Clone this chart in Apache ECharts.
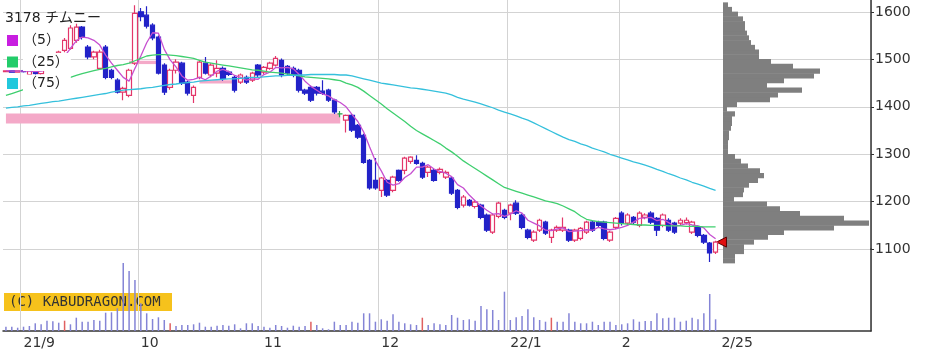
<!DOCTYPE html>
<html><head><meta charset="utf-8">
<script src="https://cdn.jsdelivr.net/npm/echarts@6/dist/echarts.min.js"></script>
<style>html,body{margin:0;padding:0;background:#fff}#c{width:930px;height:352px}</style>
</head><body><div id="c"></div>
<script>
const dates = [
'21/08/27','21/08/30','21/08/31',
'21/09/01','21/09/02','21/09/03','21/09/06','21/09/07','21/09/08','21/09/09','21/09/10','21/09/13','21/09/14','21/09/15','21/09/16','21/09/17','21/09/21','21/09/22','21/09/24','21/09/27','21/09/28','21/09/29','21/09/30',
'21/10/01','21/10/04','21/10/05','21/10/06','21/10/07','21/10/08','21/10/11','21/10/12','21/10/13','21/10/14','21/10/15','21/10/18','21/10/19','21/10/20','21/10/21','21/10/22','21/10/25','21/10/26','21/10/27','21/10/28','21/10/29',
'21/11/01','21/11/02','21/11/04','21/11/05','21/11/08','21/11/09','21/11/10','21/11/11','21/11/12','21/11/15','21/11/16','21/11/17','21/11/18','21/11/19','21/11/22','21/11/24','21/11/25','21/11/26','21/11/29','21/11/30',
'21/12/01','21/12/02','21/12/03','21/12/06','21/12/07','21/12/08','21/12/09','21/12/10','21/12/13','21/12/14','21/12/15','21/12/16','21/12/17','21/12/20','21/12/21','21/12/22','21/12/23','21/12/24','21/12/27','21/12/28','21/12/29','21/12/30',
'22/01/04','22/01/05','22/01/06','22/01/07','22/01/11','22/01/12','22/01/13','22/01/14','22/01/17','22/01/18','22/01/19','22/01/20','22/01/21','22/01/24','22/01/25','22/01/26','22/01/27','22/01/28','22/01/31',
'22/02/01','22/02/02','22/02/03','22/02/04','22/02/07','22/02/08','22/02/09','22/02/10','22/02/14','22/02/15','22/02/16','22/02/17','22/02/18','22/02/21','22/02/22','22/02/24','22/02/25'
];
const open = [
1474,1476,1473,1476,1468,1476,1470,1480,1492,1508,
1519,1523,1540,1568,1526,1505,1481,1526,1477,1456,
1431,1424,1492,1600,1593,1572,1547,1488,1441,1477,
1492,1452,1424,1462,1492,1467,1471,1481,1473,1462,
1452,1462,1456,1488,1473,1481,1488,1498,1485,1481,
1477,1435,1441,1441,1433,1435,1414,1385,1372,1382,
1361,1340,1287,1245,1224,1245,1224,1266,1266,1285,
1287,1281,1262,1266,1262,1252,1250,1224,1193,1203,
1190,1193,1172,1136,1169,1182,1176,1197,1172,1140,
1119,1140,1157,1125,1140,1140,1140,1119,1123,1136,
1157,1157,1157,1119,1146,1176,1155,1167,1150,1167,
1176,1165,1150,1161,1155,1155,1156,1136,1146,1129,
1113,1094];
const close = [
1476,1473,1476,1474,1476,1470,1480,1490,1505,1515,
1540,1566,1568,1547,1505,1515,1515,1462,1462,1431,
1439,1477,1597,1590,1570,1545,1471,1431,1477,1494,
1450,1429,1441,1494,1471,1488,1481,1460,1468,1435,
1467,1452,1471,1467,1483,1492,1502,1467,1471,1467,
1435,1429,1414,1429,1428,1414,1389,1385,1382,1351,
1336,1283,1229,1229,1250,1214,1252,1245,1292,1294,
1281,1252,1273,1245,1268,1262,1218,1188,1210,1193,
1199,1167,1140,1172,1197,1167,1193,1176,1146,1125,
1136,1161,1134,1140,1146,1146,1119,1140,1144,1157,
1140,1150,1123,1136,1165,1155,1172,1157,1176,1172,
1157,1140,1172,1140,1136,1161,1161,1157,1129,1115,
1092,1115];
const low = [
1473,1472,1472,1472,1465,1466,1467,1477,1488,1505,
1515,1520,1535,1542,1500,1500,1478,1458,1458,1428,
1414,1420,1488,1580,1565,1540,1468,1425,1436,1470,
1446,1424,1408,1458,1468,1462,1462,1455,1465,1430,
1448,1448,1452,1462,1468,1478,1485,1462,1466,1462,
1430,1425,1410,1424,1425,1410,1385,1378,1346,1347,
1332,1280,1225,1225,1210,1210,1220,1242,1258,1280,
1278,1248,1252,1242,1258,1248,1214,1184,1188,1190,
1186,1163,1136,1132,1165,1163,1161,1172,1142,1121,
1115,1136,1130,1113,1136,1136,1115,1115,1119,1132,
1136,1146,1119,1115,1142,1150,1150,1153,1146,1163,
1153,1128,1146,1136,1132,1150,1152,1132,1125,1111,
1073,1090];
const high = [
1477,1477,1477,1478,1479,1480,1483,1494,1508,1518,
1545,1572,1575,1570,1530,1518,1520,1530,1480,1460,
1442,1480,1614,1608,1612,1576,1550,1492,1480,1500,
1495,1455,1445,1497,1505,1492,1498,1485,1476,1465,
1470,1466,1474,1490,1486,1495,1507,1502,1488,1485,
1480,1438,1445,1444,1456,1438,1417,1391,1384,1385,
1364,1343,1290,1292,1252,1248,1255,1268,1295,1296,
1298,1284,1276,1270,1272,1266,1253,1227,1214,1206,
1203,1196,1175,1175,1200,1185,1196,1203,1175,1143,
1140,1164,1160,1143,1150,1167,1143,1143,1147,1160,
1160,1160,1160,1139,1168,1180,1176,1170,1180,1176,
1180,1168,1175,1165,1158,1165,1167,1160,1150,1132,
1115,1118];
const ma5 = [
1476,1475,1475,1475,1475,1474,1475,1478,1484,1492,
1506,1523,1539,1547,1545,1540,1530,1509,1492,1477,
1462,1454,1481,1507,1535,1556,1555,1521,1499,1484,
1465,1456,1458,1462,1457,1465,1475,1479,1474,1466,
1462,1456,1459,1458,1468,1473,1483,1482,1483,1480,
1468,1454,1443,1435,1427,1423,1415,1409,1400,1384,
1369,1347,1316,1286,1265,1241,1235,1238,1251,1259,
1273,1273,1278,1269,1264,1260,1253,1236,1229,1214,
1202,1191,1182,1174,1175,1169,1174,1181,1176,1161,
1155,1149,1140,1139,1143,1145,1137,1138,1139,1141,
1140,1146,1143,1141,1143,1146,1150,1157,1165,1166,
1167,1160,1163,1156,1149,1150,1154,1151,1149,1145,
1131,1122];
const ma25 = [
1424,1428,1432,1436,1440,1443,1447,1450,1453,1456,
1459,1462,1466,1470,1473,1476,1479,1481,1484,1487,
1489,1492,1497,1502,1507,1509,1510,1510,1509,1508,
1506,1504,1502,1498,1494,1492,1490,1488,1486,1484,
1482,1480,1478,1477,1475,1473,1472,1471,1469,1467,
1465,1463,1462,1461,1460,1459,1457,1455,1450,1446,
1441,1433,1424,1415,1406,1396,1387,1378,1369,1359,
1350,1343,1336,1329,1322,1313,1305,1296,1286,1278,
1270,1262,1254,1246,1238,1230,1226,1222,1218,1214,
1210,1206,1202,1199,1196,1191,1185,1179,1170,1163,
1160,1158,1157,1156,1155,1154,1153,1152,1151,1151,
1150,1150,1150,1149,1149,1149,1148,1148,1148,1147,
1147,1147];
const ma75 = [
1397,1399,1400,1402,1403,1405,1407,1409,1411,1412,
1414,1416,1418,1420,1422,1424,1426,1428,1431,1433,
1435,1436,1437,1438,1440,1441,1443,1445,1447,1448,
1450,1451,1452,1454,1455,1456,1457,1458,1459,1459,
1460,1461,1462,1462,1463,1464,1465,1465,1466,1466,
1467,1467,1468,1468,1468,1468,1468,1467,1467,1465,
1462,1459,1456,1453,1450,1448,1446,1444,1442,1440,
1439,1437,1435,1433,1431,1429,1425,1420,1416,1413,
1410,1406,1402,1398,1393,1389,1385,1381,1376,1372,
1366,1360,1354,1348,1342,1336,1331,1327,1322,1318,
1313,1309,1305,1300,1296,1292,1288,1284,1281,1277,
1273,1268,1264,1259,1255,1250,1246,1241,1237,1233,
1228,1224];
const volume = [
4300,4300,3300,4300,5000,7700,6700,10300,9700,8300,
10300,6700,13300,9300,9300,11000,10300,18300,18700,22700,
68000,60000,51000,27700,17700,12000,13700,11000,7700,5000,
6000,6000,6700,8300,4300,4300,5300,6000,5300,6700,
2700,7700,7700,5000,4300,3300,6000,5000,3300,5300,
4300,5000,9300,6000,2700,1700,9300,6000,6000,9300,
8300,17700,17700,9300,11700,10300,16700,9300,7700,6700,
6000,13300,6000,7700,6700,6000,16000,13300,11000,11700,
10300,25000,21700,21000,11000,39300,11000,13700,15000,21700,
13700,11000,9300,13300,9300,9300,17700,9300,7700,7700,
9300,6000,9300,9300,6000,6700,7700,11700,9300,10000,
10000,17700,12700,13300,13300,9300,10300,13300,11700,17700,
37000,11700];
const volRedIndex = [10, 28, 52, 71, 93];
const profilePrice = [1070,1080,1090,1100,1110,1120,1130,1140,1150,1160,1170,1180,1190,1200,1210,1220,1230,1240,1250,1260,1270,1280,1290,1300,1310,1320,1330,1340,1350,1360,1370,1380,1390,1400,1410,1420,1430,1440,1450,1460,1470,1480,1490,1500,1510,1520,1530,1540,1550,1560,1570,1580,1590,1600,1610];
const profileVolume = [12,12,21,21,31,45,61,111,146,121,77,57,44,11,20,21,26,35,41,37,25,18,12,5,5,5,6,6,8,9,9,12,4,14,47,55,79,44,61,91,97,70,48,36,36,32,28,26,24,22,22,20,15,9,5];
const monthStartIndex = [3, 23, 44, 64, 86, 105];
const tickIndex = [3, 23, 44, 64, 86, 105, 122];
const tickLabels = ['21/9', '10', '11', '12', '22/1', '2', '2/25'];
const gapBandStart = [0, 21, 33];
const gapBandEnd = [57, 26, 39];
const gapBandLow = [1365, 1490, 1449];
const gapBandHigh = [1386, 1497, 1456];

const N_SLOTS = 148;
const cats = dates.concat(Array.from({length: N_SLOTS - dates.length}, (_, k) => 'pad' + k));
const UP = '#e3376a', DOWN = '#2222c8', DOJI = '#2aa84a';
const candleData = dates.map((d, i) => {
  const v = [open[i], close[i], low[i], high[i]];
  if (open[i] === close[i]) return {value: v, itemStyle: {color: DOJI, color0: DOJI, borderColor: DOJI, borderColor0: DOJI}};
  return v;
});
const volData = volume.map((v, i) => volRedIndex.includes(i) ? {value: v, itemStyle: {color: '#e06060'}} : v);
const bands = gapBandStart.map((s, k) => [{xAxis: s, yAxis: gapBandLow[k]}, {xAxis: gapBandEnd[k], yAxis: gapBandHigh[k]}]);
const FONT = "'DejaVu Sans','Noto Sans CJK JP'";
const gridColor = '#d3d3d3';

const chart = echarts.init(document.getElementById('c'), null, {renderer: 'canvas'});
chart.setOption({
  animation: false,
  backgroundColor: '#ffffff',
  textStyle: {fontFamily: FONT},
  title: {text: '3178 チムニー', left: 5, top: 11, padding: 0, z: 20,
    textStyle: {fontSize: 14, fontWeight: 'normal', color: '#222', fontFamily: FONT}},
  legend: {
    orient: 'vertical', left: 7, top: 31.5, padding: 0, z: 20,
    itemWidth: 11, itemHeight: 11, itemGap: 3.5,
    icon: 'rect', textStyle: {fontSize: 14, color: '#222', fontFamily: FONT,
      backgroundColor: '#ffffff', padding: [2, 2, 2, 0]},
    data: ['（5）', '（25）', '（75）']
  },
  grid: [
    {left: 3, right: 59, top: 0, height: 249.2},
    {left: 3, right: 59, top: 249, bottom: 21},
    {left: 723, right: 59, top: 2.37, height: 261}
  ],
  xAxis: [
    {type: 'category', gridIndex: 0, data: cats, boundaryGap: true,
      axisLine: {show: false}, axisTick: {show: false}, axisLabel: {show: false},
      splitLine: {show: true, interval: (i) => monthStartIndex.includes(i), lineStyle: {color: gridColor, width: 1}}},
    {type: 'category', gridIndex: 1, data: cats, boundaryGap: true,
      axisLine: {show: true, lineStyle: {color: '#333', width: 1.5}}, axisTick: {show: false},
      axisLabel: {show: true, interval: (i) => tickIndex.includes(i), formatter: (v, i) => tickLabels[tickIndex.indexOf(i)] || '',
        align: 'left', margin: 5, fontSize: 14, color: '#333', fontFamily: FONT},
      splitLine: {show: true, interval: (i) => monthStartIndex.includes(i), lineStyle: {color: gridColor, width: 1}}},
    {type: 'value', gridIndex: 2, min: 0, max: 148, show: false}
  ],
  yAxis: [
    {type: 'value', gridIndex: 0, position: 'right', min: 1100, max: 1625, interval: 100, scale: true,
      axisLine: {show: true, lineStyle: {color: '#333', width: 1.5}},
      axisTick: {show: true, length: 3, lineStyle: {color: '#333'}},
      axisLabel: {show: true, showMaxLabel: false, margin: 4, fontSize: 14, color: '#333', fontFamily: FONT,
        formatter: (v) => String(v)},
      splitLine: {show: true, showMaxLine: false, lineStyle: {color: gridColor, width: 1}}},
    {type: 'value', gridIndex: 1, position: 'right', min: 0, max: 82000,
      axisLine: {show: true, lineStyle: {color: '#333', width: 1.5}}, axisTick: {show: false},
      axisLabel: {show: false}, splitLine: {show: false}},
    {type: 'category', gridIndex: 2, data: profilePrice, show: false, boundaryGap: true}
  ],
  graphic: [{
    type: 'group', left: 4, top: 293, z: 100,
    children: [
      {type: 'rect', shape: {x: 0, y: 0, width: 168, height: 18}, style: {fill: '#f6c21c'}},
      {type: 'text', x: 5, y: 9, style: {text: '(C) KABUDRAGON.COM', fill: '#333', font: "14px 'DejaVu Sans Mono'", verticalAlign: 'middle'}}
    ]
  }],
  series: [
    {type: 'bar', name: 'profile', xAxisIndex: 2, yAxisIndex: 2, data: profileVolume,
      barWidth: 5.2, itemStyle: {color: '#7f7f7f'}, z: 2, silent: true},
    {type: 'candlestick', name: 'price', xAxisIndex: 0, yAxisIndex: 0, data: candleData,
      barWidth: 5, clip: false, z: 5,
      itemStyle: {color: '#ffffff', color0: DOWN, borderColor: UP, borderColor0: DOWN, borderWidth: 1.2},
      markArea: {silent: true, itemStyle: {color: '#f4a9c8', opacity: 1}, data: bands},
      markPoint: {silent: true, data: [{coord: [dates.length, close[close.length - 1]], symbol: 'triangle', symbolSize: [10, 10], symbolRotate: 90,
        itemStyle: {color: '#e01010', borderColor: '#5a0000', borderWidth: 1}, label: {show: false}}]}},
    {type: 'line', name: '（5）', xAxisIndex: 0, yAxisIndex: 0, data: ma5, showSymbol: false, z: 6,
      itemStyle: {color: '#c81ee0'}, lineStyle: {color: '#c64fd0', width: 1.3}},
    {type: 'line', name: '（25）', xAxisIndex: 0, yAxisIndex: 0, data: ma25, showSymbol: false, z: 6,
      itemStyle: {color: '#22cc6a'}, lineStyle: {color: '#3fcf6f', width: 1.3}},
    {type: 'line', name: '（75）', xAxisIndex: 0, yAxisIndex: 0, data: ma75, showSymbol: false, z: 6,
      itemStyle: {color: '#22c8dc'}, lineStyle: {color: '#35c0dc', width: 1.3}},
    {type: 'bar', name: 'volume', xAxisIndex: 1, yAxisIndex: 1, data: volData, barWidth: 1.5,
      itemStyle: {color: '#8484d6'}, z: 2}
  ]
});
</script></body></html>
